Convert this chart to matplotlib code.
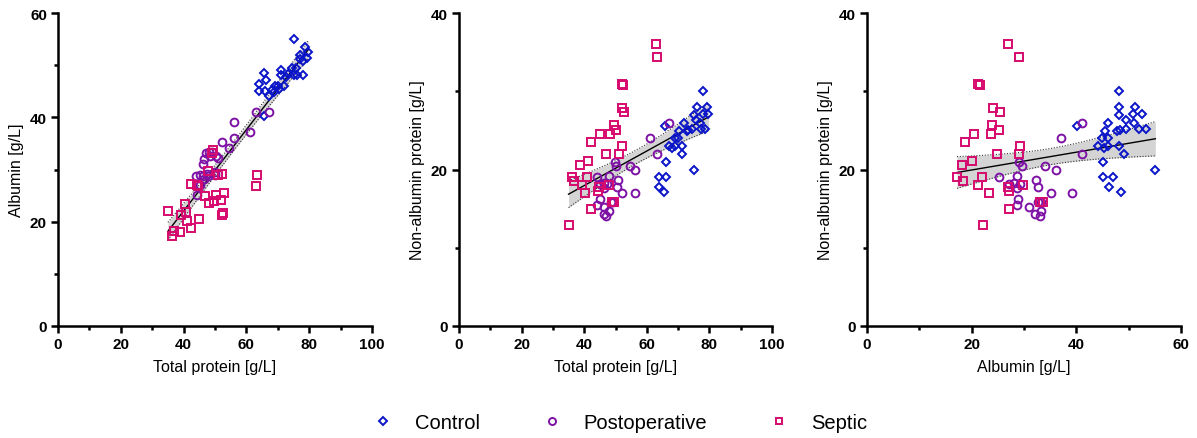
import numpy as np
import matplotlib
matplotlib.use('Agg')
import matplotlib.pyplot as plt

plt.rcParams['font.family'] = ['Liberation Sans', 'DejaVu Sans']

# albumin and non-albumin protein [g/L] per group, total protein = sum
ctrl_alb = [48.1, 48.1, 51.3, 48.1, 49.4, 50.8, 52.6, 51.1, 52.0, 53.4, 49.4, 47.8, 48.3, 46.1,
            45.4, 46.1, 44.9, 40.2, 44.1, 45.2, 46.1, 48.1, 49.1, 45.0, 55.1, 45.0, 47.1, 46.3, 48.5]
ctrl_nonalb = [30.0, 28.0, 28.0, 27.0, 26.3, 27.1, 27.1, 25.9, 25.2, 25.2, 25.2, 24.9, 25.0, 25.9,
               24.9, 24.0, 24.0, 25.5, 23.0, 22.8, 23.0, 23.0, 22.0, 21.0, 20.0, 19.0, 19.0, 17.7, 17.1]

post_alb = [41.1, 37.1, 41.1, 29.0, 29.6, 34.1, 36.1, 25.2, 28.7, 27.1, 28.1, 28.7, 29.2, 32.2,
            32.6, 35.2, 39.1, 28.9, 28.7, 32.6, 33.3, 31.0, 33.3, 32.1, 33.1]
post_nonalb = [26.0, 24.0, 22.0, 20.9, 20.4, 20.5, 20.0, 19.0, 19.2, 18.1, 18.3, 17.6, 18.1, 18.6,
               17.8, 17.0, 17.0, 16.2, 15.4, 15.9, 15.9, 15.2, 14.7, 14.3, 14.0]

sep_alb = [26.9, 29.0, 21.2, 21.6, 24.1, 25.5, 23.9, 25.2, 23.6, 20.5, 18.7, 29.2, 29.0, 24.9,
           20.1, 18.1, 17.2, 21.9, 18.3, 21.2, 26.9, 27.1, 29.8, 23.3, 33.1, 33.7, 27.2, 22.1]
sep_nonalb = [36.1, 34.4, 30.9, 30.8, 27.9, 27.3, 25.7, 25.0, 24.5, 24.5, 23.5, 23.0, 22.0, 22.0,
              21.1, 20.6, 19.0, 19.0, 18.5, 18.0, 17.7, 17.2, 18.0, 17.0, 15.9, 15.8, 15.0, 12.9]

groups = ['Control', 'Postoperative', 'Septic']
colors = ['#0a14c8', '#7d12a5', '#d60a6e']
markers = ['D', 'o', 's']
msizes = [4.2, 5.6, 5.2]

alb = [np.array(ctrl_alb), np.array(post_alb), np.array(sep_alb)]
nonalb = [np.array(ctrl_nonalb), np.array(post_nonalb), np.array(sep_nonalb)]
total = [a + n for a, n in zip(alb, nonalb)]


def fit_band(ax, x, y):
    # linear regression with 95% confidence band
    n = len(x)
    b, a = np.polyfit(x, y, 1)
    resid = y - (a + b * x)
    s = np.sqrt(np.sum(resid ** 2) / (n - 2))
    xm = x.mean()
    sxx = np.sum((x - xm) ** 2)
    xs = np.linspace(x.min(), x.max(), 100)
    ys = a + b * xs
    se = s * np.sqrt(1.0 / n + (xs - xm) ** 2 / sxx)
    t = 1.99
    ax.fill_between(xs, ys - t * se, ys + t * se, color='#d4d4d4', lw=0, zorder=1)
    ax.plot(xs, ys - t * se, color='#333333', lw=0.8, ls=(0, (1, 1.5)), zorder=2)
    ax.plot(xs, ys + t * se, color='#333333', lw=0.8, ls=(0, (1, 1.5)), zorder=2)
    ax.plot(xs, ys, color='black', lw=1.0, zorder=2)


fig = plt.figure(figsize=(11.97, 4.39), dpi=100)
h = 313 / 439
b0 = 1 - 327 / 439
ax1 = fig.add_axes([58 / 1197, b0, 314 / 1197, h])
ax2 = fig.add_axes([459 / 1197, b0, 313 / 1197, h])
ax3 = fig.add_axes([867 / 1197, b0, 314 / 1197, h])

panels = [
    (ax1, total, alb, (0, 100), (0, 60), 'Total protein [g/L]', 'Albumin [g/L]'),
    (ax2, total, nonalb, (0, 100), (0, 40), 'Total protein [g/L]', 'Non-albumin protein [g/L]'),
    (ax3, alb, nonalb, (0, 60), (0, 40), 'Albumin [g/L]', 'Non-albumin protein [g/L]'),
]

for ax, xd, yd, xl, yl, xlab, ylab in panels:
    fit_band(ax, np.concatenate(xd), np.concatenate(yd))
    for i in range(3):
        ax.plot(xd[i], yd[i], ls='none', marker=markers[i], ms=msizes[i], mfc='none',
                mec=colors[i], mew=1.4, label=groups[i], zorder=3)
    ax.set_xlim(xl)
    ax.set_ylim(yl)
    ax.set_xticks(np.arange(xl[0], xl[1] + 1, 20))
    ax.set_xticks(np.arange(xl[0] + 10, xl[1], 20), minor=True)
    ax.set_yticks(np.arange(yl[0], yl[1] + 1, 20))
    ax.set_yticks(np.arange(yl[0] + 10, yl[1], 20), minor=True)
    for sp in ['top', 'right']:
        ax.spines[sp].set_visible(False)
    for sp in ['left', 'bottom']:
        ax.spines[sp].set_linewidth(1.8)
    ax.tick_params(which='major', length=5, width=1.8, labelsize=11, pad=3)
    ax.tick_params(which='minor', length=3, width=1.8)
    for lab in ax.get_xticklabels() + ax.get_yticklabels():
        lab.set_fontweight('bold')
    ax.set_xlabel(xlab, fontsize=11.5, labelpad=6)
    ax.set_ylabel(ylab, fontsize=11.5, labelpad=4)

handles, labels = ax1.get_legend_handles_labels()
fig.legend(handles, labels, loc='center', bbox_to_anchor=(0.518, 1 - 424 / 439), ncol=3,
           frameon=False, fontsize=14.5, handlelength=1.0, handletextpad=1.05,
           columnspacing=3.1, markerscale=0.9)

fig.savefig('out.png', dpi=100)
